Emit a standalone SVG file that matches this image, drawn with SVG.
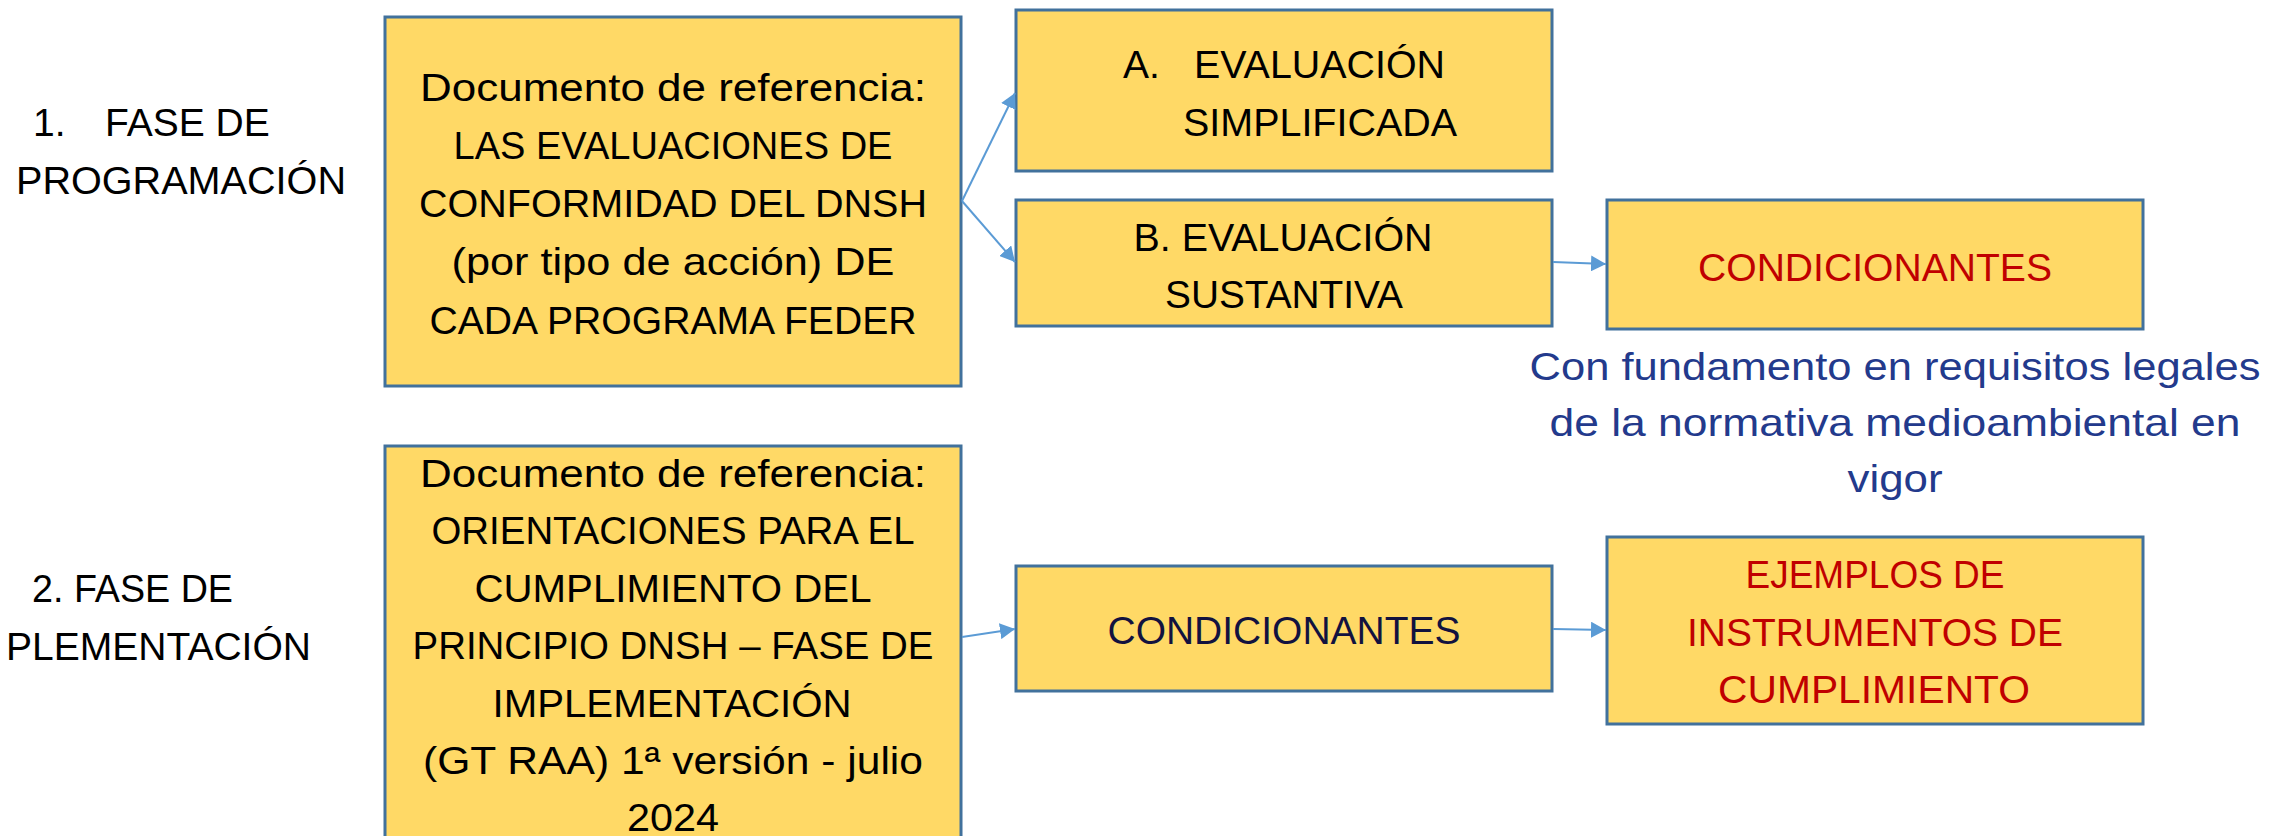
<svg xmlns="http://www.w3.org/2000/svg" width="2270" height="836" viewBox="0 0 2270 836">
<defs>
<style>
.box{fill:#FFD966;stroke:#41719C;stroke-width:3}
.t{font-family:"Liberation Sans",Arial,sans-serif;font-size:39px;fill:#000}
.c{text-anchor:middle}
.red{fill:#C00000}
.navy{fill:#12123F}
.blue{fill:#233A8C}
.conn{stroke:#5B9BD5;stroke-width:2;fill:none;marker-end:url(#ah)}
</style>
<marker id="ah" markerUnits="userSpaceOnUse" markerWidth="15" markerHeight="16" refX="15" refY="8" orient="auto">
<path d="M0,0 L15,8 L0,16 z" fill="#5B9BD5"/>
</marker>
</defs>
<rect width="2270" height="836" fill="#fff"/>

<g id="label-fase1">
<text class="t" y="136"><tspan x="33">1.</tspan><tspan x="105">FASE DE</tspan></text>
<text class="t" x="16" y="194" textLength="330" lengthAdjust="spacingAndGlyphs">PROGRAMACIÓN</text>
</g>

<g id="label-fase2">
<text class="t" x="32" y="602" textLength="201" lengthAdjust="spacingAndGlyphs">2. FASE DE</text>
<text class="t" x="6" y="660" textLength="305" lengthAdjust="spacingAndGlyphs">PLEMENTACIÓN</text>
</g>

<g id="doc1">
<rect class="box" x="385" y="17" width="576" height="369"/>
<text class="t c" x="673" y="101" textLength="506" lengthAdjust="spacingAndGlyphs">Documento de referencia:</text>
<text class="t c" x="673" y="159" textLength="439" lengthAdjust="spacingAndGlyphs">LAS EVALUACIONES DE</text>
<text class="t c" x="673" y="217" textLength="508" lengthAdjust="spacingAndGlyphs">CONFORMIDAD DEL DNSH</text>
<text class="t c" x="673" y="275" textLength="443" lengthAdjust="spacingAndGlyphs">(por tipo de acción) DE</text>
<text class="t c" x="673" y="334" textLength="487" lengthAdjust="spacingAndGlyphs">CADA PROGRAMA FEDER</text>
</g>

<g id="evalA">
<rect class="box" x="1016" y="10" width="536" height="161"/>
<text class="t" y="78"><tspan x="1123">A.</tspan><tspan x="1194" textLength="251" lengthAdjust="spacingAndGlyphs">EVALUACIÓN</tspan></text>
<text class="t" x="1183" y="136" textLength="274" lengthAdjust="spacingAndGlyphs">SIMPLIFICADA</text>
</g>

<g id="evalB">
<rect class="box" x="1016" y="200" width="536" height="126"/>
<text class="t c" x="1283" y="251" textLength="299" lengthAdjust="spacingAndGlyphs">B. EVALUACIÓN</text>
<text class="t c" x="1284" y="308" textLength="238" lengthAdjust="spacingAndGlyphs">SUSTANTIVA</text>
</g>

<g id="cond1">
<rect class="box" x="1607" y="200" width="536" height="129"/>
<text class="t c red" x="1875" y="281" textLength="354" lengthAdjust="spacingAndGlyphs">CONDICIONANTES</text>
</g>

<g id="nota">
<text class="t c blue" x="1895" y="380" textLength="731" lengthAdjust="spacingAndGlyphs">Con fundamento en requisitos legales</text>
<text class="t c blue" x="1895" y="436" textLength="691" lengthAdjust="spacingAndGlyphs">de la normativa medioambiental en</text>
<text class="t c blue" x="1895" y="492" textLength="95" lengthAdjust="spacingAndGlyphs">vigor</text>
</g>

<g id="doc2">
<rect class="box" x="385" y="446" width="576" height="410"/>
<text class="t c" x="673" y="487" textLength="506" lengthAdjust="spacingAndGlyphs">Documento de referencia:</text>
<text class="t c" x="673" y="544" textLength="483" lengthAdjust="spacingAndGlyphs">ORIENTACIONES PARA EL</text>
<text class="t c" x="673" y="602" textLength="397" lengthAdjust="spacingAndGlyphs">CUMPLIMIENTO DEL</text>
<text class="t c" x="673" y="659" textLength="521" lengthAdjust="spacingAndGlyphs">PRINCIPIO DNSH – FASE DE</text>
<text class="t c" x="672" y="717" textLength="359" lengthAdjust="spacingAndGlyphs">IMPLEMENTACIÓN</text>
<text class="t c" x="673" y="774" textLength="500" lengthAdjust="spacingAndGlyphs">(GT RAA) 1ª versión - julio</text>
<text class="t c" x="673" y="831" textLength="92" lengthAdjust="spacingAndGlyphs">2024</text>
</g>

<g id="cond2">
<rect class="box" x="1016" y="566" width="536" height="125"/>
<text class="t c navy" x="1284" y="644" textLength="353" lengthAdjust="spacingAndGlyphs">CONDICIONANTES</text>
</g>

<g id="ejemplos">
<rect class="box" x="1607" y="537" width="536" height="187"/>
<text class="t c red" x="1875" y="588" textLength="259" lengthAdjust="spacingAndGlyphs">EJEMPLOS DE</text>
<text class="t c red" x="1875" y="646" textLength="376" lengthAdjust="spacingAndGlyphs">INSTRUMENTOS DE</text>
<text class="t c red" x="1874" y="703" textLength="312" lengthAdjust="spacingAndGlyphs">CUMPLIMIENTO</text>
</g>

<g id="connectors">
<line class="conn" x1="962" y1="201" x2="1015" y2="93"/>
<line class="conn" x1="962" y1="201" x2="1015" y2="262"/>
<line class="conn" x1="1553" y1="262" x2="1606" y2="264"/>
<line class="conn" x1="962" y1="637" x2="1015" y2="629"/>
<line class="conn" x1="1553" y1="629" x2="1606" y2="630"/>
</g>
</svg>
